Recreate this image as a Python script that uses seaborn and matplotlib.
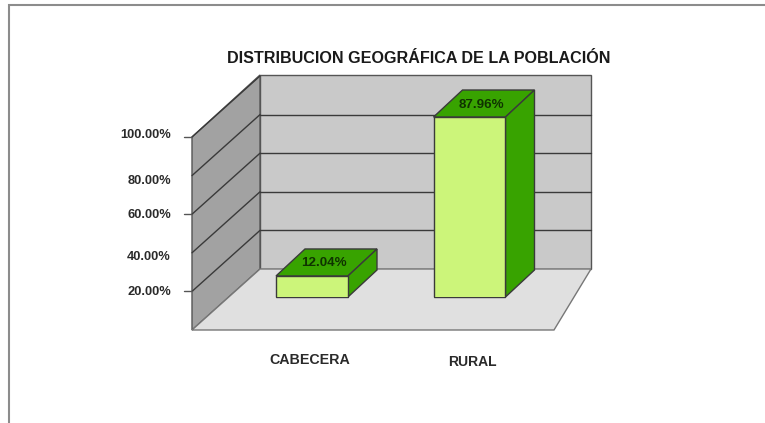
import matplotlib
matplotlib.use("Agg")
import matplotlib.pyplot as plt
from matplotlib.patches import Polygon
import seaborn as sns

categories = ["CABECERA", "RURAL"]
values = [12.04, 87.96]
wall_ticks = [20, 40, 60, 80, 100]
tick_labels = ["20.00%", "40.00%", "60.00%", "80.00%", "100.00%"]
title = "DISTRIBUCION GEOGRÁFICA DE LA POBLACIÓN"

sns.set_theme(style="white")
plt.rcParams["font.family"] = ["Liberation Sans", "DejaVu Sans"]

W, H = 765, 423
TEXT = "#2a2a2a"
LINE = "#3a3a3a"
FRONT = "#ccf57a"
DARK = "#38a300"
DEPTH_X, DEPTH_Y = 29, 27

fig = plt.figure(figsize=(W / 100, H / 100), dpi=100, facecolor="white")

# background layer in pixel coordinates (walls, floor, frame, text)
bg = fig.add_axes([0, 0, 1, 1])
bg.set_xlim(0, W)
bg.set_ylim(H, 0)
bg.axis("off")


def poly(pts, face, edge=LINE, lw=1.0, z=1):
    bg.add_patch(Polygon(pts, closed=True, facecolor=face, edgecolor=edge, linewidth=lw, zorder=z))


# outer frame
bg.plot([9, 9, W], [H, 5.5, 5.5], color="#8c8c8c", lw=1.5, solid_joinstyle="miter")

# walls and floor
poly([(260, 75), (591, 75), (591, 269), (260, 269)], "#c9c9c9", edge="#555555")
poly([(192, 137), (260, 75), (260, 269), (192, 330)], "#a2a2a2", edge="#555555")
poly([(192, 330), (260, 269), (591, 269), (554, 330)], "#e0e0e0", edge="#777777")

# gridlines follow the wall scale
for v in wall_ticks:
    y = 330 - 1.93 * v
    if v < 100:
        bg.plot([260, 591], [y - 61, y - 61], color=LINE, lw=1.0, zorder=2)
    bg.plot([192, 260], [y, y - 61], color=LINE, lw=1.0, zorder=2)

# tick marks and labels
for v in [20, 60, 100]:
    y = 330 - 1.93 * v
    bg.plot([184, 192], [y, y], color="#555555", lw=1.0)
for lab, y in zip(tick_labels, [292, 256.5, 215.5, 181.5, 135.5]):
    bg.text(171, y, lab, ha="right", va="center", fontsize=9.3, fontweight="bold", color=TEXT)

bg.text(418.5, 58.5, title, ha="center", va="center", fontsize=11.6, fontweight="bold", color="#1a1a1a")

# bars on a transparent axes lined up with the front plane
left, right = 233.25, 548.25
bottom, top = 297.0, 91.8
ax = fig.add_axes([left / W, 1 - bottom / H, (right - left) / W, (bottom - top) / H])
ax.patch.set_alpha(0)
sns.barplot(x=categories, y=values, color=FRONT, saturation=1, width=0.457,
            edgecolor=LINE, linewidth=1.0, ax=ax)
ax.set_xlim(-0.5, 1.5)
ax.set_ylim(2, 100)
ax.axis("off")

to_px = bg.transData.inverted()
for patch, val, cat in zip(ax.patches, values, categories):
    x0, x1 = patch.get_x(), patch.get_x() + patch.get_width()
    (px0, py1) = to_px.transform(ax.transData.transform((x0, val)))
    (px1, py0) = to_px.transform(ax.transData.transform((x1, 2)))
    # top and side faces of the box
    poly([(px0, py1), (px0 + DEPTH_X, py1 - DEPTH_Y), (px1 + DEPTH_X, py1 - DEPTH_Y), (px1, py1)], DARK, z=3)
    poly([(px1, py1), (px1 + DEPTH_X, py1 - DEPTH_Y), (px1 + DEPTH_X, py0 - DEPTH_Y), (px1, py0)], DARK, z=3)
    bg.plot([px0, px1], [py0, py0], color=LINE, lw=1.0, zorder=3)
    bg.text((px0 + px1) / 2 + DEPTH_X / 2 - 3, py1 - DEPTH_Y / 2 + 1, f"{val:.2f}%", ha="center", va="center",
            fontsize=9.6, fontweight="bold", color="#0f3300", zorder=5)

bg.text(309.5, 360, categories[0], ha="center", va="center", fontsize=10.3, fontweight="bold", color=TEXT)
bg.text(472.5, 362, categories[1], ha="center", va="center", fontsize=10, fontweight="bold", color=TEXT)

fig.savefig("out.png", dpi=100)
